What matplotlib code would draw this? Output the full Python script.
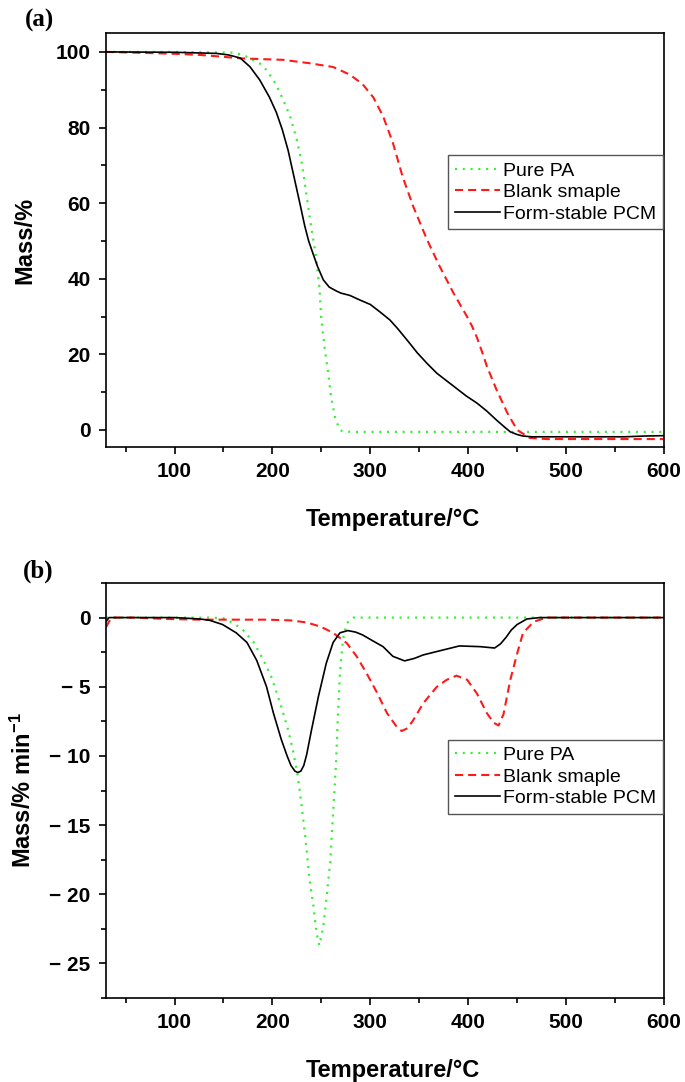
import matplotlib
matplotlib.use("Agg")
import matplotlib.pyplot as plt
from matplotlib.ticker import MultipleLocator, FuncFormatter

plt.rcParams['font.family'] = ['Liberation Sans', 'DejaVu Sans']
plt.rcParams['mathtext.fontset'] = 'custom'
plt.rcParams['mathtext.rm'] = 'Liberation Sans:bold'
plt.rcParams['mathtext.default'] = 'rm'

# (a) TG curves
tg_pa_T = [30, 100, 160, 170, 177, 187, 194, 203, 211, 218, 225, 230, 235, 240, 244,
           248, 250, 254, 257, 260, 264, 268, 271, 280, 400, 600]
tg_pa_M = [100, 100, 99.8, 99.2, 98.3, 97, 95.2, 91.7, 87.3, 83, 76.7, 70.6, 61.7, 53, 46.8,
           37.8, 29, 20.4, 15, 8.5, 3.4, 0.5, -0.3, -0.5, -0.5, -0.5]

tg_blank_T = [30, 60, 100, 126, 150, 167, 177, 211, 238, 262, 279, 292, 303, 313, 323, 333,
              344, 358, 371, 385, 399, 404, 409, 414, 419, 429, 440, 450, 463, 480, 600]
tg_blank_M = [100, 99.8, 99.5, 99.2, 98.7, 98.3, 98.2, 97.9, 97, 96, 94, 91.5, 88, 83, 76, 67,
              59, 50.3, 43.2, 36.2, 29.9, 27.4, 24.4, 20.8, 16.9, 10.6, 4.5, 0, -2.1, -2.4, -2.4]

tg_pcm_T = [30, 100, 143, 155, 167, 177, 187, 197, 204, 210, 216, 222, 228, 233, 237, 241,
            246, 252, 258, 265, 270, 279, 290, 300, 310, 320, 328, 340, 348, 358, 368, 378,
            388, 398, 409, 419, 429, 437, 443, 450, 456, 465, 480, 520, 560, 580, 600]
tg_pcm_M = [100, 99.9, 99.6, 99.2, 98.4, 96.1, 92.6, 88, 84, 79.5, 74, 67, 60, 54, 50, 47,
            43.3, 39.7, 37.8, 36.8, 36.2, 35.6, 34.3, 33.2, 31.2, 29.1, 26.8, 23, 20.4, 17.6,
            15, 13, 11, 9, 7.1, 5, 2.6, 0.8, -0.5, -1.2, -1.6, -1.8, -1.8, -1.8, -1.8, -1.6, -1.5]

# (b) DTG curves
dtg_pa_T = [30, 100, 136, 150, 160, 170, 181, 191, 199, 208, 216, 221, 226, 230, 234, 238,
            242, 245, 248, 252, 255, 259, 262, 265, 267, 269, 272, 276, 283, 600]
dtg_pa_M = [0, 0, 0, -0.05, -0.4, -0.9, -1.8, -3.1, -4.3, -6.2, -8.1, -9.6, -11.5, -13.7, -16.1, -19,
            -20.9, -22.8, -23.7, -22.3, -20.4, -17.7, -14.1, -10.5, -6.9, -4, -1.6, -0.4, 0, 0]

dtg_blank_T = [30, 33, 36, 58, 92, 126, 160, 194, 218, 235, 249, 262, 276, 286, 296, 307, 317,
               327, 332, 338, 344, 354, 368, 378, 388, 399, 409, 419, 426, 431, 436, 443, 450,
               456, 467, 480, 600]
dtg_blank_M = [-0.7, -0.3, 0, 0, -0.1, -0.15, -0.15, -0.15, -0.2, -0.35, -0.65, -1.1, -1.85, -2.8,
               -4.0, -5.45, -6.9, -7.9, -8.2, -8.0, -7.4, -6.2, -5, -4.5, -4.2, -4.5, -5.5, -6.9,
               -7.6, -7.8, -7.0, -4.5, -2.6, -1.1, -0.3, 0, 0]

dtg_pcm_T = [30, 33, 40, 100, 126, 136, 149, 163, 174, 184, 194, 201, 209, 215, 219, 223, 226,
             229, 232, 235, 240, 247, 255, 262, 269, 277, 285, 292, 303, 313, 323, 335, 345, 354,
             371, 391, 412, 427, 433, 439, 444, 450, 460, 473, 600]
dtg_pcm_M = [-0.3, 0, 0, 0, -0.1, -0.2, -0.5, -1.1, -1.8, -3.1, -5, -6.9, -8.8, -10, -10.7, -11.1,
             -11.2, -11.1, -10.7, -9.9, -8.1, -5.7, -3.3, -1.8, -1.1, -0.94, -1.05, -1.25, -1.7,
             -2.1, -2.8, -3.13, -2.95, -2.7, -2.4, -2.05, -2.1, -2.2, -1.9, -1.4, -0.9, -0.5,
             -0.1, 0, 0]

labels = ['Pure PA', 'Blank smaple', 'Form-stable PCM']
green = '#33ee33'
red = '#ff1a1a'

fig = plt.figure(figsize=(6.85, 10.82), dpi=100)
ax1 = fig.add_axes([106/685, 1-447/1082, 558/685, 414/1082])
ax2 = fig.add_axes([106/685, 1-998/1082, 558/685, 415/1082])


def draw(ax, pa, blank, pcm):
    ax.plot(pa[0], pa[1], color=green, lw=1.6, ls=(0, (0.9, 2.6)), label=labels[0])
    ax.plot(blank[0], blank[1], color=red, lw=1.5, ls=(0, (3.9, 2.4)), label=labels[1])
    ax.plot(pcm[0], pcm[1], color='black', lw=1.2, label=labels[2])
    ax.set_xlim(30, 600)
    ax.xaxis.set_major_locator(MultipleLocator(100))
    ax.xaxis.set_minor_locator(MultipleLocator(50))
    for s in ax.spines.values():
        s.set_linewidth(1.2)
    ax.tick_params(which='major', direction='out', length=5, width=1.2, labelsize=15, pad=6)
    ax.tick_params(which='minor', direction='out', length=3.5, width=1.2)
    for t in ax.get_xticklabels() + ax.get_yticklabels():
        t.set_fontweight('bold')
    ax.set_xlabel('Temperature/\u00b0C', fontsize=17, fontweight='bold')
    ax.xaxis.set_label_coords(0.514, -0.147)
    ax.xaxis.label.set_va('top')
    leg = ax.legend(loc='upper left', fontsize=14, frameon=True, fancybox=False,
                    handlelength=2.3, handletextpad=0.2, labelspacing=0.2,
                    borderpad=0.35, borderaxespad=0, framealpha=1)
    leg.get_frame().set_edgecolor('#555555')
    leg.get_frame().set_linewidth(1.0)
    return leg


# (a)
ax1.set_ylim(-4.5, 105)
ax1.yaxis.set_major_locator(MultipleLocator(20))
ax1.yaxis.set_minor_locator(MultipleLocator(10))
leg1 = draw(ax1, (tg_pa_T, tg_pa_M), (tg_blank_T, tg_blank_M), (tg_pcm_T, tg_pcm_M))
leg1.set_bbox_to_anchor((0.613, 0.705), transform=ax1.transAxes)
ax1.set_ylabel('Mass/%', fontsize=17, fontweight='bold')
ax1.yaxis.set_label_coords(-0.125, 0.5)

# (b)
ax2.set_ylim(-27.5, 2.5)
ax2.yaxis.set_major_locator(MultipleLocator(5))
ax2.yaxis.set_minor_locator(MultipleLocator(2.5))
ax2.yaxis.set_major_formatter(FuncFormatter(lambda v, p: '0' if abs(v) < 1e-9 else '\u2212 %g' % abs(v)))
leg2 = draw(ax2, (dtg_pa_T, dtg_pa_M), (dtg_blank_T, dtg_blank_M), (dtg_pcm_T, dtg_pcm_M))
leg2.set_bbox_to_anchor((0.613, 0.622), transform=ax2.transAxes)
ax2.set_ylabel('Mass/% min$^{-1}$', fontsize=17, fontweight='bold')
ax2.yaxis.set_label_coords(-0.125, 0.5)

fig.text(25/685, 1-20/1082, '(a)', fontsize=18, fontweight='bold', family='Liberation Serif',
         ha='left', va='center')
fig.text(23/685, 1-571/1082, '(b)', fontsize=18, fontweight='bold', family='Liberation Serif',
         ha='left', va='center')

fig.savefig('out.png', dpi=100)
